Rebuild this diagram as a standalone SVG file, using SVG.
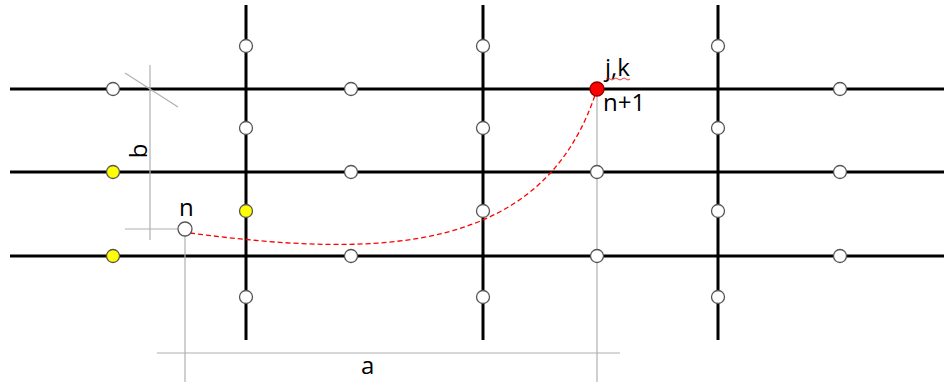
<svg xmlns="http://www.w3.org/2000/svg" width="944" height="382" viewBox="0 0 944 382">
<style>
.grid{stroke:#000;stroke-width:3;fill:none}
.dim{stroke:#b0b0b0;stroke-width:1.2;fill:none}
.pt{fill:#fff;stroke:#555;stroke-width:1.3}
.ye{fill:#ffff00;stroke:#555;stroke-width:1.3}
.rd{fill:#ff0000;stroke:#8b0000;stroke-width:1.3}
text{font-family:"Open Sans","Liberation Sans",sans-serif;font-size:24px;fill:#000}
</style>
<rect width="944" height="382" fill="#fff"/>
<g id="connectors">
<g id="grid">
<line class="grid" x1="10" y1="89" x2="944" y2="89"/>
<line class="grid" x1="10" y1="172" x2="944" y2="172"/>
<line class="grid" x1="10" y1="256" x2="944" y2="256"/>
<line class="grid" x1="246" y1="5" x2="246" y2="340"/>
<line class="grid" x1="483" y1="5" x2="483" y2="340"/>
<line class="grid" x1="718" y1="5" x2="718" y2="340"/>
</g>
<g id="dims">
<line class="dim" x1="150" y1="65" x2="150" y2="240"/>
<line class="dim" x1="125" y1="73" x2="178" y2="107"/>
<line class="dim" x1="125" y1="229" x2="185" y2="229"/>
<line class="dim" x1="185" y1="229" x2="185" y2="382"/>
<line class="dim" x1="157" y1="353" x2="620" y2="353"/>
<line class="dim" x1="597" y1="89" x2="597" y2="382"/>
</g>
<path d="M190,233 C380,258 545,255 597,89" fill="none" stroke="#ff0000" stroke-width="1.3" stroke-dasharray="5,3"/>
</g>
<g id="nodes">
<circle class="pt" cx="113" cy="89" r="6.5"/>
<circle class="pt" cx="351" cy="89" r="6.5"/>
<circle class="pt" cx="840" cy="89" r="6.5"/>
<circle class="ye" cx="113" cy="172" r="6.5"/>
<circle class="pt" cx="351" cy="172" r="6.5"/>
<circle class="pt" cx="597" cy="172" r="6.5"/>
<circle class="pt" cx="840" cy="172" r="6.5"/>
<circle class="ye" cx="113" cy="256" r="6.5"/>
<circle class="pt" cx="351" cy="256" r="6.5"/>
<circle class="pt" cx="597" cy="256" r="6.5"/>
<circle class="pt" cx="840" cy="256" r="6.5"/>
<circle class="pt" cx="246" cy="46" r="6.5"/>
<circle class="pt" cx="246" cy="128" r="6.5"/>
<circle class="ye" cx="246" cy="211" r="6.5"/>
<circle class="pt" cx="246" cy="297" r="6.5"/>
<circle class="pt" cx="483" cy="46" r="6.5"/>
<circle class="pt" cx="483" cy="128" r="6.5"/>
<circle class="pt" cx="483" cy="211" r="6.5"/>
<circle class="pt" cx="483" cy="297" r="6.5"/>
<circle class="pt" cx="718" cy="46" r="6.5"/>
<circle class="pt" cx="718" cy="128" r="6.5"/>
<circle class="pt" cx="718" cy="211" r="6.5"/>
<circle class="pt" cx="718" cy="297" r="6.5"/>
<g id="node-n"><circle class="pt" cx="185" cy="229" r="7"/><text x="179" y="216">n</text></g>
<g id="node-jk"><circle class="rd" cx="597" cy="89" r="7"/>
<text x="605" y="76">j,k</text>
<path d="M606,79 q2,-2 4,0 t4,0 t4,0 t4,0 t4,0 t4,0" fill="none" stroke="#ff0000" stroke-width="0.8"/>
<text x="603" y="111">n+1</text></g>
</g>
<text x="361" y="374">a</text>
<text transform="translate(147,151) rotate(-90)" text-anchor="middle">b</text>
</svg>
